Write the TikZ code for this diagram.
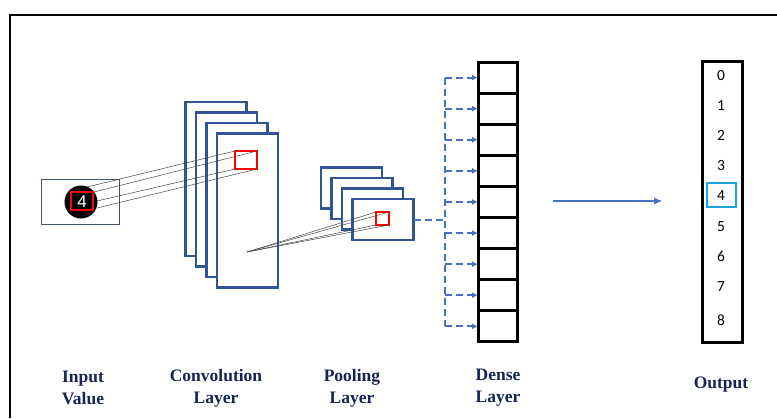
\documentclass[tikz,border=0pt]{standalone}
\usepackage{fontspec}
\setmainfont{Liberation Serif}
\newfontfamily\digitfont{Carlito}
\newfontfamily\glyphfont{Liberation Sans}
\usetikzlibrary{arrows.meta}
\definecolor{layerblue}{RGB}{47,85,151}
\definecolor{linkblue}{RGB}{68,114,196}
\definecolor{labelnavy}{RGB}{22,36,84}
\definecolor{hilite}{RGB}{26,163,220}
\definecolor{slate}{RGB}{68,84,106}
\definecolor{wire}{RGB}{70,70,70}

\begin{document}
\begin{tikzpicture}[x=1pt,y=-1pt,
  box/.style={inner sep=0pt, outer sep=0pt, fill=white},
  convbox/.style={box, draw=layerblue, line width=2.8pt, minimum width=61pt, minimum height=154pt},
  poolbox/.style={box, draw=layerblue, line width=2.8pt, minimum width=61pt, minimum height=41pt},
  window/.style={inner sep=0pt, outer sep=0pt, draw=red, line width=1.6pt},
  cell/.style={box, draw=black, line width=3pt, minimum width=39pt, minimum height=31.1pt},
  wireline/.style={draw=wire, line width=0.5pt},
  feed/.style={draw=linkblue, line width=2pt, dash pattern=on 7pt off 4pt},
  feedarrow/.style={feed, -{Latex[length=6pt,width=6pt]}},
  caption/.style={text=labelnavy, align=center, font=\fontsize{17.5}{22}\selectfont\bfseries},
  digit/.style={font=\digitfont\fontsize{15.5}{15.5}\selectfont, inner sep=0pt},
]
\useasboundingbox (0,0) rectangle (777,418);

% page frame
\draw[line width=1.3pt] (10,418) -- (10,15) -- (777,15);

% input image
\node[box, draw=slate, line width=0.8pt, minimum width=78pt, minimum height=45pt] (inp) at (80,201.5) {};
\node[circle, fill=black, minimum size=33pt, inner sep=0pt] (digitdisc) at (81,202) {};
\node[text=white, font=\glyphfont\fontsize{17}{17}\selectfont, inner sep=0pt] (digitlbl) at (82,201.5) {4};
\node[window, minimum width=22pt, minimum height=18pt] (iwin) at (82,201) {};

% convolution feature maps
\node[convbox] (c1) at (216,179) {};
\node[convbox] (c2) at (226.5,189.5) {};
\node[convbox] (c3) at (237,200) {};
\node[convbox] (c4) at (247.5,210.5) {};
\node[window, minimum width=22pt, minimum height=18pt] (cwin) at (246,160) {};

% pooling maps
\node[poolbox] (p1) at (351.5,188) {};
\node[poolbox] (p2) at (362,198.5) {};
\node[poolbox] (p3) at (372.5,209) {};
\node[poolbox] (p4) at (383,219.5) {};
\node[window, minimum width=13pt, minimum height=13pt] (pwin) at (382.5,218.5) {};

% receptive field: input window to convolution window
\coordinate (s1) at (87,187);
\coordinate (s2) at (94,192);
\coordinate (s3) at (97,201);
\coordinate (s4) at (97,208);
\draw[wireline] (s1) -- (cwin.north west);
\draw[wireline] (s2) -- (cwin.north east);
\draw[wireline] (s3) -- (cwin.south west);
\draw[wireline] (s4) -- (cwin.south east);

% convolution unit to pooling window
\coordinate (fan) at (247,252);
\draw[wireline] (fan) -- (pwin.north west);
\draw[wireline] (fan) -- (pwin.north east);
\draw[wireline] (fan) -- (pwin.south west);
\draw[wireline] (fan) -- (pwin.south east);

% dense layer
\foreach \i in {1,...,9}{
  \node[cell] (d\i) at (497.5,{62+31.1*(\i-0.5)}) {};
}

% fully connected feed from pooling to dense layer
\coordinate (bus) at (445,0);
\draw[feed] (p4.east) -- (p4.east -| bus);
\draw[feed] (d1.west -| bus) -- (d9.west -| bus);
\foreach \i in {1,...,9}{
  \draw[feedarrow] (d\i.west -| bus) -- (d\i.west);
}

% classification arrow
\coordinate (clsA) at (553,201);
\coordinate (clsB) at (663,201);
\draw[draw=linkblue, line width=2pt, -{Latex[length=9pt,width=7pt]}] (clsA) -- (clsB);

% output column
\node[box, draw=black, line width=3pt, minimum width=40pt, minimum height=281pt] (outcol) at (722,201.5) {};
\foreach \n/\y in {0/76,1/106,2/135,3/166,4/196,5/227,6/256,7/287,8/320}{
  \node[digit] (o\n) at (721,\y) {\n};
}
\node[inner sep=0pt, outer sep=0pt, draw=hilite, line width=2pt, minimum width=29pt, minimum height=24pt] (pick) at (721.5,195) {};

% captions
\node[caption] (capIn) at (83,388) {Input\\Value};
\node[caption] (capConv) at (216,388) {Convolution\\Layer};
\node[caption] (capPool) at (352,388) {Pooling\\Layer};
\node[caption] (capDense) at (498,388) {Dense\\Layer};
\node[caption] (capOut) at (721,385) {Output};
\end{tikzpicture}
\end{document}
